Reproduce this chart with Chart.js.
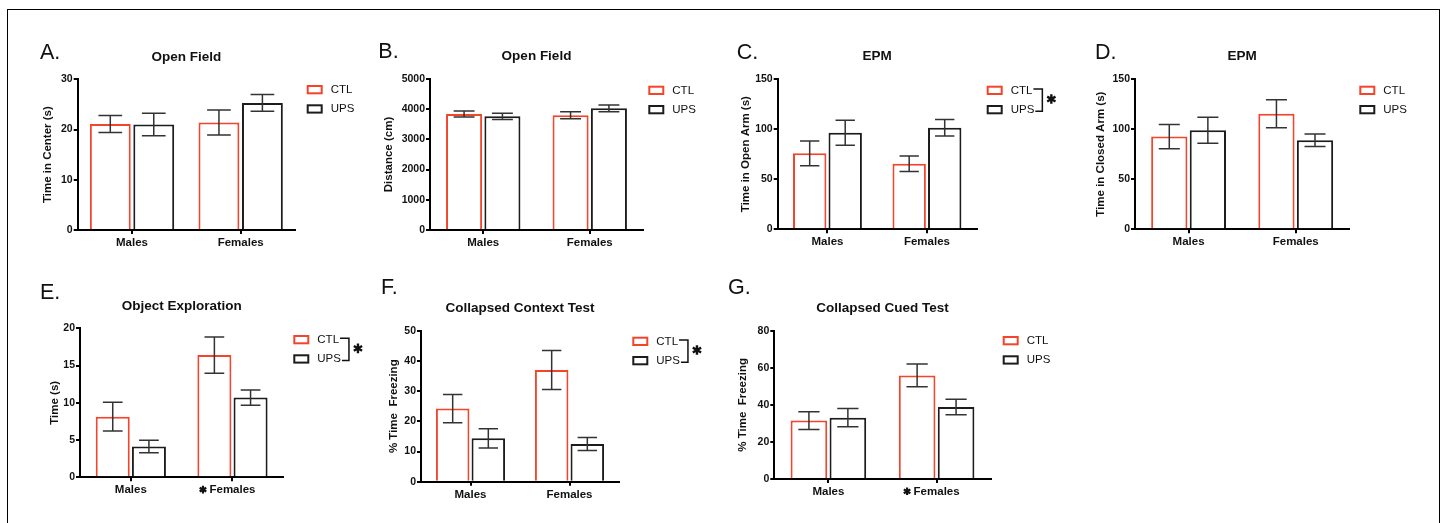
<!DOCTYPE html>
<html>
<head>
<meta charset="utf-8">
<script src="https://cdn.jsdelivr.net/npm/chart.js@4.4.1/dist/chart.umd.min.js"></script>
<style>
  html, body { margin: 0; padding: 0; background: #fff; }
  body { width: 1444px; height: 523px; position: relative; overflow: hidden; }
  .frame { position: absolute; left: 7px; top: 9px; width: 1433px; height: 530px; border: 1px solid #000; box-sizing: border-box; }
  canvas { position: absolute; }
</style>
</head>
<body>
<div class="frame"></div>
<div id="panels"></div>
<script>
const groups = ["Males", "Females"];

// A. Open Field - time in center (s)
const centerCtl = [21.1, 21.4];
const centerCtlSem = [1.7, 2.5];
const centerUps = [21.0, 25.3];
const centerUpsSem = [2.25, 1.65];

// B. Open Field - distance (cm)
const distanceCtl = [3840, 3797];
const distanceCtlSem = [100, 116];
const distanceUps = [3764, 4029];
const distanceUpsSem = [105, 110];

// C. EPM - time in open arm (s)
const openArmCtl = [75.8, 65.5];
const openArmCtlSem = [12.4, 7.7];
const openArmUps = [96.4, 101.4];
const openArmUpsSem = [12.5, 8.2];

// D. EPM - time in closed arm (s)
const closedArmCtl = [92.5, 115.4];
const closedArmCtlSem = [12, 14];
const closedArmUps = [98.8, 88.8];
const closedArmUpsSem = [13, 6.2];

// E. Object exploration (s)
const objectCtl = [8.14, 16.4];
const objectCtlSem = [1.93, 2.44];
const objectUps = [4.12, 10.7];
const objectUpsSem = [0.84, 1.03];

// F. Collapsed context test (% freezing)
const contextCtl = [24.2, 37.0];
const contextCtlSem = [4.7, 6.45];
const contextUps = [14.35, 12.5];
const contextUpsSem = [3.15, 2.15];

// G. Collapsed cued test (% freezing)
const cuedCtl = [31.5, 55.9];
const cuedCtlSem = [4.75, 6.2];
const cuedUps = [33.1, 38.8];
const cuedUpsSem = [4.9, 4.2];

const FONT = '"Liberation Sans", Arial, sans-serif';
const CTL_COLOR = "#f4442b";
const UPS_COLOR = "#1c1c1c";
const AXIS_TITLE_SIZE = 11.5;
const AXIS_TITLE_LH = AXIS_TITLE_SIZE * 1.2;
const X_H = 26;

Chart.defaults.font.family = FONT;

const panels = [
  { letter: "A.", title: "Open Field", yTitle: "Time in Center (s)", max: 30, step: 10,
    ctl: centerCtl, ctlSem: centerCtlSem, ups: centerUps, upsSem: centerUpsSem,
    box: [77.7, 79.3, 295, 230], yGap: 29.7, catPct: 0.8, legend: [11.7, 5.7], letterAt: [40, 59] },
  { letter: "B.", title: "Open Field", yTitle: "Distance (cm)", max: 5000, step: 1000,
    ctl: distanceCtl, ctlSem: distanceCtlSem, ups: distanceUps, upsSem: distanceUpsSem,
    box: [430, 79, 643, 230], yGap: 40.8, catPct: 0.72, legend: [5.3, 6.7], letterAt: [378.3, 58.3] },
  { letter: "C.", title: "EPM", yTitle: "Time in Open Arm (s)", max: 150, step: 50,
    ctl: openArmCtl, ctlSem: openArmCtlSem, ups: openArmUps, upsSem: openArmUpsSem,
    box: [777.7, 79, 976.7, 229.3], yGap: 31.5, catPct: 0.714, legend: [10, 6.7], letterAt: [736.7, 59],
    bracket: true },
  { letter: "D.", title: "EPM", yTitle: "Time in Closed Arm (s)", max: 150, step: 50,
    ctl: closedArmCtl, ctlSem: closedArmCtlSem, ups: closedArmUps, upsSem: closedArmUpsSem,
    box: [1135, 79, 1349.3, 229.3], yGap: 33.7, catPct: 0.72, legend: [10, 6.7], letterAt: [1095, 59] },
  { letter: "E.", title: "Object Exploration", yTitle: "Time (s)", max: 20, step: 5,
    ctl: objectCtl, ctlSem: objectCtlSem, ups: objectUps, upsSem: objectUpsSem,
    box: [80, 328.3, 283.3, 477.3], yGap: 25.3, catPct: 0.712, legend: [10, 6.7], letterAt: [40, 299],
    bracket: true, starred: ["Females"] },
  { letter: "F.", title: "Collapsed Context Test", yTitle: "% Time  Freezing", max: 50, step: 10,
    ctl: contextCtl, ctlSem: contextCtlSem, ups: contextUps, upsSem: contextUpsSem,
    box: [421, 330.7, 619, 481.7], yGap: 26.8, catPct: 0.72, legend: [13.3, 6], letterAt: [381, 294],
    bracket: true },
  { letter: "G.", title: "Collapsed Cued Test", yTitle: "% Time  Freezing", max: 80, step: 20,
    ctl: cuedCtl, ctlSem: cuedCtlSem, ups: cuedUps, upsSem: cuedUpsSem,
    box: [774.3, 330.7, 990.7, 479], yGap: 31, catPct: 0.72, legend: [12, 5.3], letterAt: [728, 294],
    starred: ["Females"] },
];

const drawStar = (ctx, x, y, r, width) => {
  ctx.save();
  ctx.lineWidth = width;
  ctx.lineCap = "butt";
  ctx.beginPath();
  [90, 30, 150].forEach((deg) => {
    const a = (deg * Math.PI) / 180;
    ctx.moveTo(x - r * Math.cos(a), y - r * Math.sin(a));
    ctx.lineTo(x + r * Math.cos(a), y + r * Math.sin(a));
  });
  ctx.stroke();
  ctx.restore();
};

const errorBars = {
  id: "errorBars",
  afterDatasetsDraw(chart) {
    const { ctx } = chart;
    const yScale = chart.scales.y;
    ctx.save();
    ctx.strokeStyle = "#333";
    ctx.lineWidth = 1.5;
    chart.data.datasets.forEach((ds, di) => {
      chart.getDatasetMeta(di).data.forEach((bar, i) => {
        const v = ds.data[i];
        const e = ds.sem[i];
        const hi = yScale.getPixelForValue(v + e);
        const lo = yScale.getPixelForValue(v - e);
        const half = bar.width * 0.29;
        ctx.beginPath();
        ctx.moveTo(bar.x, hi);
        ctx.lineTo(bar.x, lo);
        ctx.moveTo(bar.x - half, hi);
        ctx.lineTo(bar.x + half, hi);
        ctx.moveTo(bar.x - half, lo);
        ctx.lineTo(bar.x + half, lo);
        ctx.stroke();
      });
    });
    ctx.restore();
  },
};

const panelDecor = {
  id: "panelDecor",
  afterDraw(chart, args, opts) {
    const { ctx, chartArea: area } = chart;
    ctx.save();
    ctx.fillStyle = "#111";

    // panel letter
    ctx.font = `21.5px ${FONT}`;
    ctx.textAlign = "left";
    ctx.textBaseline = "alphabetic";
    ctx.fillText(opts.letter, area.left + opts.letterDx, area.top + opts.letterDy);

    // title
    ctx.font = `bold 13.5px ${FONT}`;
    ctx.textAlign = "center";
    ctx.fillText(opts.title, (area.left + area.right) / 2, area.top - 18.7);

    // legend
    const x0 = area.right + opts.legend[0];
    const y0 = area.top + opts.legend[1];
    const textX = x0 + 24;
    ctx.font = `11.5px ${FONT}`;
    ctx.textAlign = "left";
    ctx.textBaseline = "middle";
    let maxW = 0;
    chart.data.datasets.forEach((ds, i) => {
      const y = y0 + i * 19.3;
      ctx.lineWidth = 2;
      ctx.strokeStyle = ds.borderColor;
      ctx.strokeRect(x0 + 1, y + 1, 14, 7.3);
      ctx.fillText(ds.label, textX, y + 4.8);
      maxW = Math.max(maxW, ctx.measureText(ds.label).width);
    });

    if (opts.bracket) {
      const bx = textX + maxW + 8;
      const top = y0 + 3.2;
      const bottom = y0 + 19.3 + 6.2;
      const w0 = ctx.measureText(chart.data.datasets[0].label).width;
      const w1 = ctx.measureText(chart.data.datasets[1].label).width;
      ctx.strokeStyle = "#111";
      ctx.lineWidth = 1.5;
      ctx.beginPath();
      ctx.moveTo(textX + w0 + 1, top);
      ctx.lineTo(bx, top);
      ctx.lineTo(bx, bottom);
      ctx.lineTo(textX + w1 + 1, bottom);
      ctx.stroke();
      drawStar(ctx, bx + 9, (top + bottom) / 2 - 1, 4.8, 2.4);
    }

    // stars next to category labels
    if (opts.starred && opts.starred.length) {
      const xScale = chart.scales.x;
      ctx.font = `bold 11.5px ${FONT}`;
      ctx.strokeStyle = "#111";
      chart.data.labels.forEach((label, i) => {
        if (!opts.starred.includes(label)) return;
        const w = ctx.measureText(label).width;
        const cx = xScale.getPixelForValue(i) - w / 2 - 6.5;
        drawStar(ctx, cx, area.bottom + 12.3, 3.8, 2.2);
      });
    }
    ctx.restore();
  },
};

const host = document.getElementById("panels");

panels.forEach((p) => {
  const [L, T, R, B] = p.box;
  const yW = p.yGap + AXIS_TITLE_LH / 2;
  const left = Math.floor(L - yW - 60);
  const top = Math.floor(T - 64);
  const width = Math.ceil(R - left + 110);
  const height = Math.ceil(B - top + X_H + 2);

  const canvas = document.createElement("canvas");
  canvas.width = width;
  canvas.height = height;
  canvas.style.left = left + "px";
  canvas.style.top = top + "px";
  canvas.style.width = width + "px";
  canvas.style.height = height + "px";
  host.appendChild(canvas);

  const tickFont = { family: FONT, size: 10.5, weight: "bold" };

  new Chart(canvas, {
    type: "bar",
    data: {
      labels: groups,
      datasets: [
        {
          label: "CTL",
          data: p.ctl,
          sem: p.ctlSem,
          backgroundColor: "#ffffff",
          borderColor: CTL_COLOR,
          borderWidth: 2,
          barPercentage: 0.94,
          categoryPercentage: p.catPct,
        },
        {
          label: "UPS",
          data: p.ups,
          sem: p.upsSem,
          backgroundColor: "#ffffff",
          borderColor: UPS_COLOR,
          borderWidth: 2,
          barPercentage: 0.94,
          categoryPercentage: p.catPct,
        },
      ],
    },
    options: {
      responsive: false,
      animation: false,
      devicePixelRatio: 1,
      layout: {
        padding: {
          left: L - yW - left,
          top: T - top,
          right: width - (R - left),
          bottom: height - (B - top) - X_H,
        },
      },
      plugins: {
        legend: { display: false },
        tooltip: { enabled: false },
        panelDecor: {
          letter: p.letter,
          title: p.title,
          legend: p.legend,
          letterDx: p.letterAt[0] - L,
          letterDy: p.letterAt[1] - T,
          bracket: !!p.bracket,
          starred: p.starred || [],
        },
      },
      scales: {
        x: {
          afterFit: (scale) => {
            scale.height = X_H;
          },
          border: { display: true, color: "#000", width: 2 },
          grid: {
            display: true,
            drawOnChartArea: false,
            drawTicks: true,
            tickLength: 4,
            offset: false,
            color: "#000",
            lineWidth: 2,
          },
          ticks: {
            color: "#111",
            padding: 2,
            font: { family: FONT, size: 11.5, weight: "bold" },
          },
        },
        y: {
          min: 0,
          max: p.max,
          afterFit: (scale) => {
            scale.width = yW;
          },
          border: { display: true, color: "#000", width: 2 },
          grid: {
            display: true,
            drawOnChartArea: false,
            drawTicks: true,
            tickLength: 4,
            color: "#000",
            lineWidth: 2,
          },
          ticks: {
            stepSize: p.step,
            color: "#111",
            padding: 1,
            font: tickFont,
            callback: (value) => String(value),
          },
          title: {
            display: true,
            text: p.yTitle,
            color: "#111",
            padding: 0,
            font: { family: FONT, size: AXIS_TITLE_SIZE, weight: "bold" },
          },
        },
      },
    },
    plugins: [errorBars, panelDecor],
  });
});
</script>
</body>
</html>
